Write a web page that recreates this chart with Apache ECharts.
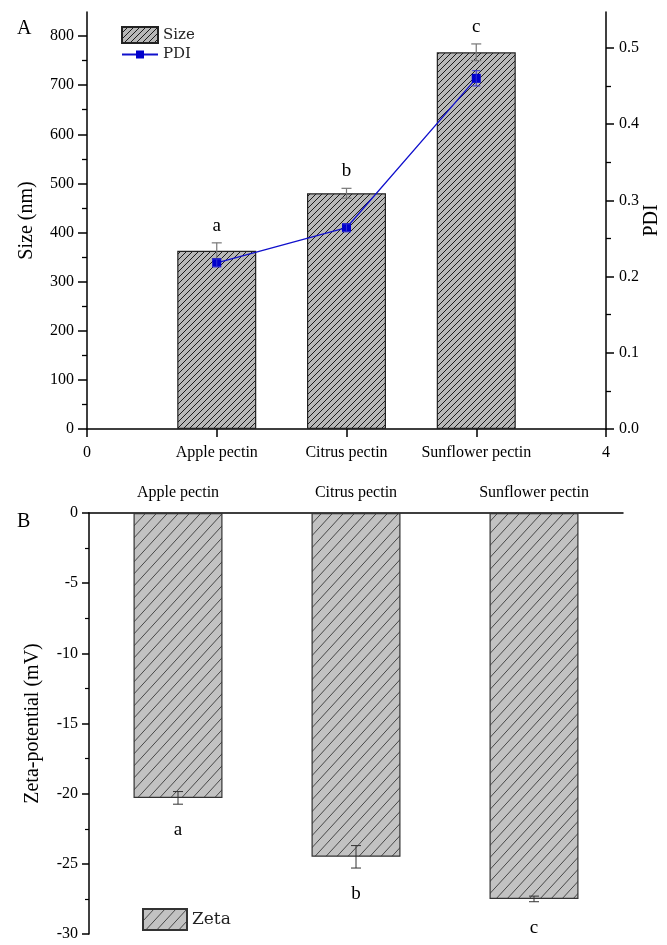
<!DOCTYPE html>
<html>
<head>
<meta charset="utf-8">
<script src="https://cdn.jsdelivr.net/npm/echarts@6/dist/echarts.min.js"></script>
<style>html,body{margin:0;padding:0;background:#fff;}#c{width:667px;height:945px;}</style>
</head>
<body>
<div id="c"></div>
<script>
// ---- data ----
const categories = ['Apple pectin', 'Citrus pectin', 'Sunflower pectin'];
const xTopTicks = ['0', 'Apple pectin', 'Citrus pectin', 'Sunflower pectin', '4'];
const sizeVals = [363, 480, 767];
const sizeErr = [16, 10, 17];
const sizeLetters = ['a', 'b', 'c'];
const pdiVals = [0.218, 0.264, 0.460];
const pdiErr = [0.005, 0.005, 0.010];
const zetaVals = [-20.3, -24.5, -27.5];
const zetaErr = [0.45, 0.8, 0.2];
const zetaLetters = ['a', 'b', 'c'];
const sizeTicks = [0, 100, 200, 300, 400, 500, 600, 700, 800];
const pdiTicks = [0, 0.1, 0.2, 0.3, 0.4, 0.5];
const zetaTicks = [0, -5, -10, -15, -20, -25, -30];

const serif = 'Liberation Serif';
const legendFont = 'DejaVu Serif';

function hatch(w, h, bg, fg, lw) {
  const c = document.createElement('canvas');
  c.width = w; c.height = h;
  const g = c.getContext('2d');
  g.fillStyle = bg; g.fillRect(0, 0, w, h);
  g.strokeStyle = fg; g.lineWidth = lw;
  g.beginPath();
  g.moveTo(-w, 2 * h); g.lineTo(2 * w, -h);
  g.moveTo(-w, h); g.lineTo(w, -h);
  g.moveTo(0, 2 * h); g.lineTo(2 * w, 0);
  g.stroke();
  return c;
}
const topFill = { image: hatch(6, 6, '#b8b8b8', '#1a1a1a', 1), repeat: 'repeat' };
const botFill = { image: hatch(11, 12, '#c2c2c2', '#3a3a3a', 0.9), repeat: 'repeat' };

function mids(arr) { const r = []; for (let i = 0; i < arr.length - 1; i++) r.push((arr[i] + arr[i + 1]) / 2); return r; }

function errRender(color, capHalf, letters, above, letterOffset, lw) {
  return function (params, api) {
    const x = api.value(0), y = api.value(1), e = api.value(2);
    const hi = api.coord([x, y + e]);
    const lo = api.coord([x, y - e]);
    const children = [
      { type: 'line', shape: { x1: hi[0], y1: hi[1], x2: lo[0], y2: lo[1] }, style: { stroke: color, lineWidth: lw } },
      { type: 'line', shape: { x1: hi[0] - capHalf, y1: hi[1], x2: hi[0] + capHalf, y2: hi[1] }, style: { stroke: color, lineWidth: lw } },
      { type: 'line', shape: { x1: lo[0] - capHalf, y1: lo[1], x2: lo[0] + capHalf, y2: lo[1] }, style: { stroke: color, lineWidth: lw } }
    ];
    if (letters) {
      const p = above ? hi : lo;
      children.push({
        type: 'text', x: p[0], y: above ? p[1] - letterOffset : p[1] + letterOffset,
        style: { text: letters[params.dataIndex], fill: '#000', font: '19px ' + serif, align: 'center', verticalAlign: 'middle' }
      });
    }
    return { type: 'group', children: children };
  };
}

const axisLineStyle = { color: '#000', width: 1.5 };
const labelStyle = { color: '#000', fontFamily: serif, fontSize: 16 };
const nameStyle = { color: '#000', fontFamily: serif, fontSize: 20 };

const chart = echarts.init(document.getElementById('c'), null, { renderer: 'canvas' });
chart.setOption({
  backgroundColor: '#fff',
  animation: false,
  title: [
    { text: 'A', left: 12, top: 14, textStyle: { fontFamily: serif, fontSize: 20, fontWeight: 'normal', color: '#000' } },
    { text: 'B', left: 12, top: 507, textStyle: { fontFamily: serif, fontSize: 20, fontWeight: 'normal', color: '#000' } }
  ],
  legend: [
    { data: [{ name: 'Size', icon: 'rect' }], orient: 'vertical', left: 116, top: 21, itemWidth: 36, itemHeight: 16,
      textStyle: { fontFamily: legendFont, fontSize: 15, color: '#222' } },
    { data: ['PDI'], orient: 'vertical', left: 116, top: 42, itemWidth: 36, itemHeight: 10,
      textStyle: { fontFamily: legendFont, fontSize: 15, color: '#222' } },
    { data: [{ name: 'Zeta', icon: 'rect' }], orient: 'vertical', left: 137, top: 903, itemWidth: 44, itemHeight: 21,
      textStyle: { fontFamily: legendFont, fontSize: 17, color: '#222' } }
  ],
  grid: [
    { left: 87, right: 61, top: 12, height: 417, outerBoundsMode: 'none', containLabel: false },
    { left: 89, right: 44, top: 513, height: 421, outerBoundsMode: 'none', containLabel: false }
  ],
  xAxis: [
    { type: 'value', gridIndex: 0, min: 0, max: 4, interval: 1, position: 'bottom',
      axisLine: { lineStyle: axisLineStyle }, axisTick: { length: 8, lineStyle: { color: '#000', width: 1.5 } },
      axisLabel: Object.assign({ margin: 16, formatter: v => xTopTicks[Math.round(v)] }, labelStyle),
      splitLine: { show: false } },
    { type: 'category', gridIndex: 1, data: categories, position: 'top',
      axisLine: { lineStyle: axisLineStyle }, axisTick: { inside: true, length: 7, lineStyle: { color: '#000', width: 1.3 } },
      axisLabel: Object.assign({ margin: 12 }, labelStyle), splitLine: { show: false } },
    { type: 'category', gridIndex: 1, data: categories, position: 'top',
      axisLine: { show: false }, axisTick: { inside: true, alignWithLabel: true, length: 4, lineStyle: { color: '#000', width: 1 } },
      axisLabel: { show: false }, splitLine: { show: false } }
  ],
  yAxis: [
    { type: 'value', gridIndex: 0, min: 0, max: 849, position: 'left',
      name: 'Size (nm)', nameLocation: 'middle', nameGap: 50, nameTextStyle: nameStyle,
      axisLine: { show: true, lineStyle: axisLineStyle },
      axisTick: { show: true, length: 9, customValues: sizeTicks, lineStyle: { color: '#000', width: 1.5 } },
      axisLabel: Object.assign({ margin: 13, customValues: sizeTicks }, labelStyle), splitLine: { show: false } },
    { type: 'value', gridIndex: 0, min: 0, max: 849, position: 'left',
      axisLine: { show: false },
      axisTick: { show: true, length: 5, customValues: mids(sizeTicks), lineStyle: { color: '#000', width: 1.3 } },
      axisLabel: { show: false }, splitLine: { show: false } },
    { type: 'value', gridIndex: 0, min: 0, max: 0.547, position: 'right',
      name: 'PDI', nameLocation: 'middle', nameGap: 36, nameRotate: 90, nameMoveOverlap: false, nameTextStyle: nameStyle,
      axisLine: { show: true, lineStyle: axisLineStyle },
      axisTick: { show: true, length: 8, customValues: pdiTicks, lineStyle: { color: '#000', width: 1.5 } },
      axisLabel: Object.assign({ margin: 13, customValues: pdiTicks, formatter: v => v.toFixed(1) }, labelStyle), splitLine: { show: false } },
    { type: 'value', gridIndex: 0, min: 0, max: 0.547, position: 'right',
      axisLine: { show: false },
      axisTick: { show: true, length: 5, customValues: mids(pdiTicks), lineStyle: { color: '#000', width: 1.3 } },
      axisLabel: { show: false }, splitLine: { show: false } },
    { type: 'value', gridIndex: 1, min: -30, max: 0, interval: 5, position: 'left',
      name: 'Zeta-potential (mV)', nameLocation: 'middle', nameGap: 46, nameTextStyle: nameStyle,
      axisLine: { show: true, lineStyle: axisLineStyle },
      axisTick: { show: true, length: 7, lineStyle: { color: '#000', width: 1.5 } },
      minorTick: { show: true, splitNumber: 2, length: 4, lineStyle: { color: '#000', width: 1.2 } },
      axisLabel: Object.assign({ margin: 11, customValues: zetaTicks }, labelStyle), splitLine: { show: false }, minorSplitLine: { show: false } }
  ],
  series: [
    { name: 'Size', type: 'bar', xAxisIndex: 0, yAxisIndex: 0, barWidth: 79,
      data: sizeVals.map((v, i) => [i + 1, v]),
      itemStyle: { color: topFill, borderColor: '#222', borderWidth: 1.2 }, z: 2 },
    { type: 'custom', xAxisIndex: 0, yAxisIndex: 0, z: 3,
      data: sizeVals.map((v, i) => [i + 1, v, sizeErr[i]]),
      renderItem: errRender('#777', 5, sizeLetters, true, 17, 1.2) },
    { name: 'PDI', type: 'line', xAxisIndex: 0, yAxisIndex: 2, z: 4,
      data: pdiVals.map((v, i) => [i + 1, v]),
      symbol: 'rect', symbolSize: 9, showAllSymbol: true,
      lineStyle: { color: '#1010cc', width: 1.3 }, itemStyle: { color: '#0000cc' } },
    { type: 'custom', xAxisIndex: 0, yAxisIndex: 2, z: 5,
      data: pdiVals.map((v, i) => [i + 1, v, pdiErr[i]]),
      renderItem: errRender('#3030d0', 4, null, true, 0, 1) },
    { name: 'Zeta', type: 'bar', xAxisIndex: 1, yAxisIndex: 4, barWidth: 89,
      data: zetaVals,
      itemStyle: { color: botFill, borderColor: '#333', borderWidth: 1.2 }, z: 2 },
    { type: 'custom', xAxisIndex: 1, yAxisIndex: 4, z: 3,
      data: zetaVals.map((v, i) => [i, v, zetaErr[i]]),
      renderItem: errRender('#333', 5, zetaLetters, false, 26, 1) }
  ]
});
</script>
</body>
</html>
